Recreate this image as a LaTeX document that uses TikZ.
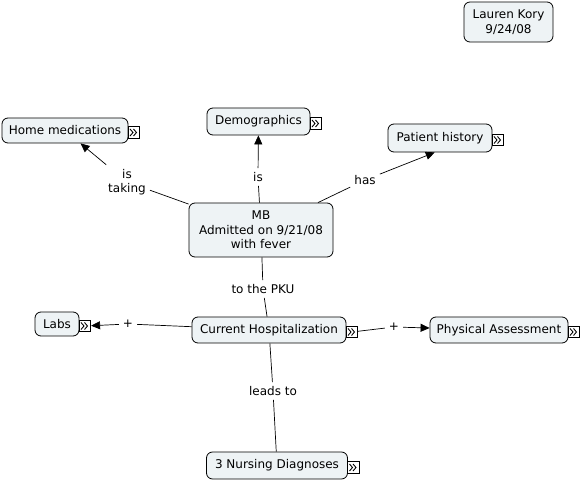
\documentclass[tikz,border=0pt]{standalone}
\usepackage{fontspec}
\setmainfont{DejaVu Sans}
\usepackage{xcolor}
\usetikzlibrary{positioning, arrows.meta, calc}
\definecolor{ink}{HTML}{000000}
\definecolor{soft}{HTML}{EEF3F5}
\newcommand{\moreicon}[1]{%
  \node[moreicon, anchor=west] (#1-icon) at ([xshift=-0.5pt, yshift=-2pt]#1.east) {};}

\begin{document}
\begin{tikzpicture}[x=1pt, y=-1pt, font=\fontsize{12}{14.5}\selectfont,
  concept/.style={rectangle, draw=ink, line width=0.8pt, rounded corners=6pt, fill=soft,
                  align=center, inner sep=2pt},
  linkword/.style={align=center, inner sep=4pt},
  link/.style={draw=ink, line width=0.7pt},
  linkarrow/.style={link, -{Triangle[length=9pt, width=8pt]}},
  moreicon/.style={rectangle, draw=ink, fill=white, line width=0.7pt, minimum size=11.5pt,
                   inner sep=0pt,
                   path picture={
                     \draw[line width=0.9pt] ([shift={(-4pt,3.5pt)}]path picture bounding box.center)
                       -- ([shift={(-1pt,0pt)}]path picture bounding box.center)
                       -- ([shift={(-4pt,-3.5pt)}]path picture bounding box.center);
                     \draw[line width=0.9pt] ([shift={(-0.5pt,3.5pt)}]path picture bounding box.center)
                       -- ([shift={(2.5pt,0pt)}]path picture bounding box.center)
                       -- ([shift={(-0.5pt,-3.5pt)}]path picture bounding box.center);}}]
  \useasboundingbox (0,0) rectangle (582,481);

  % concepts
  \node[concept, minimum width=89pt, minimum height=40pt] (author) at (508.5,22) {Lauren Kory\\9/24/08};
  \node[concept, minimum width=126pt, minimum height=25pt] (homemed) at (65,130.5) {Home medications};
  \node[concept, minimum width=103pt, minimum height=27pt] (demo) at (258.5,121.5) {Demographics};
  \node[concept, minimum width=104pt, minimum height=28pt] (history) at (440,138) {Patient history};
  \node[concept, minimum width=144pt, minimum height=54pt] (mb) at (261,230) {MB\\Admitted on 9/21/08\\with fever};
  \node[concept, minimum width=44pt, minimum height=24pt] (labs) at (57,324) {Labs};
  \node[concept, minimum width=154pt, minimum height=26pt] (current) at (269,330) {Current Hospitalization};
  \node[concept, minimum width=138pt, minimum height=26pt] (physical) at (499,330) {Physical Assessment};
  \node[concept, minimum width=141pt, minimum height=27pt] (nursing) at (277,465.5) {3 Nursing Diagnoses};

  \moreicon{homemed}
  \moreicon{demo}
  \moreicon{history}
  \moreicon{labs}
  \moreicon{current}
  \moreicon{physical}
  \moreicon{nursing}

  % linking words
  \node[linkword] (taking) at (127,182) {is\\taking};
  \node[linkword] (isdemo) at (258,177) {is};
  \node[linkword] (has) at (365,180) {has};
  \node[linkword] (pku) at (263,289) {to the PKU};
  \node[linkword] (plusleft) at (128,324) {+};
  \node[linkword] (plusright) at (394,327) {+};
  \node[linkword] (leads) at (273,391) {leads to};

  % connectors
  \draw[link] (mb) -- (taking);
  \draw[linkarrow] (taking) -- (homemed);
  \draw[link] (mb) -- (isdemo);
  \draw[linkarrow] (isdemo) -- (demo);
  \draw[link] (mb) -- (has);
  \draw[linkarrow] (has) -- (history.250);
  \draw[link] (mb) -- (pku);
  \draw[link] (pku) -- (current);
  \draw[link] (current) -- (plusleft);
  \draw[linkarrow] (plusleft) -- (labs-icon);
  \draw[link] (current-icon) -- (plusright);
  \draw[linkarrow] (plusright) -- (physical);
  \draw[link] (current) -- (leads);
  \draw[link] (leads) -- (nursing);
\end{tikzpicture}
\end{document}
